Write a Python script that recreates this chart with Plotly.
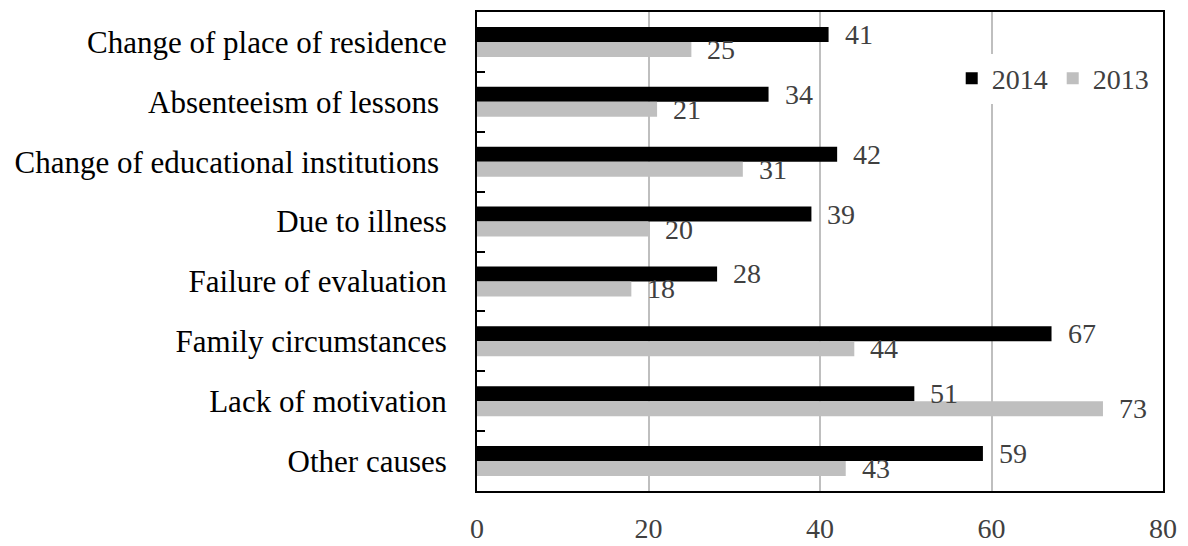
import plotly.graph_objects as go

categories = ["Change of place of residence", "Absenteeism of lessons ", "Change of educational institutions ",
              "Due to illness", "Failure of evaluation", "Family circumstances",
              "Lack of motivation", "Other causes"]
v2014 = [41, 34, 42, 39, 28, 67, 51, 59]
v2013 = [25, 21, 31, 20, 18, 44, 73, 43]
x_ticks = [0, 20, 40, 60, 80]

FONT = "Liberation Serif"
fig = go.Figure()
fig.add_trace(go.Bar(y=categories, x=v2014, orientation="h", name="2014",
                     marker=dict(color="#000000", line=dict(width=0))))
fig.add_trace(go.Bar(y=categories, x=v2013, orientation="h", name="2013",
                     marker=dict(color="#bfbfbf", line=dict(width=0))))

annotations = []
for i, c in enumerate(categories):
    for vals, off in ((v2014, -7.5), (v2013, 7.5)):
        annotations.append(dict(x=vals[i], y=c, xref="x", yref="y", text=str(vals[i]),
                                showarrow=False, xanchor="left", xshift=14, yshift=-off,
                                font=dict(family=FONT, size=28, color="#404040")))

# page body has an 8px margin, so the figure is shifted by 8px
fig.update_layout(
    width=1180, height=538,
    margin=dict(l=469, r=25, t=2, b=46),
    paper_bgcolor="white", plot_bgcolor="white",
    barmode="group", bargap=0.5, bargroupgap=0,
    font=dict(family=FONT, size=28, color="#404040"),
    annotations=annotations,
    legend=dict(orientation="h", x=0.692, y=0.861, xanchor="left", yanchor="middle",
                font=dict(family=FONT, size=28, color="#404040"), bgcolor="white",
                itemwidth=30, traceorder="normal"),
    xaxis=dict(range=[0, 80], tickvals=x_ticks, showgrid=True, gridcolor="#bfbfbf", gridwidth=2,
               zeroline=False, showline=True, linecolor="black", linewidth=2, mirror=True,
               ticks="", ticklabelstandoff=11,
               tickfont=dict(family=FONT, size=28, color="#404040")),
    yaxis=dict(autorange="reversed", showgrid=False, zeroline=False, showline=True,
               linecolor="black", linewidth=2, mirror=True, ticks="inside", ticklen=8,
               tickwidth=2, tickcolor="black", tickson="boundaries", ticklabelstandoff=22,
               tickfont=dict(family=FONT, size=31, color="#000000")),
)
fig.write_html("out.html")
